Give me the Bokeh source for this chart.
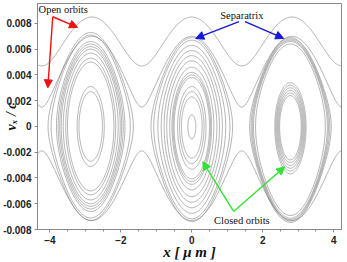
import numpy as np
from bokeh.plotting import figure
from bokeh.models import Label, Arrow, NormalHead, FixedTicker, CustomJSTickFormatter
from bokeh.embed import file_html
from bokeh.resources import INLINE

# ---- data ----
x_ticks = [-4, -2, 0, 2, 4]
x_minor = [-4.5, -4, -3.5, -3, -2.5, -2, -1.5, -1, -0.5, 0, 0.5, 1, 1.5, 2, 2.5, 3, 3.5, 4]
y_ticks = [-0.008, -0.006, -0.004, -0.002, 0.0, 0.002, 0.004, 0.006, 0.008]

period = 2.82                       # distance between island centres [um]
island_centres = [-2.85, 0.0, 2.78]  # x of O-points
island_vsep = [0.0075, 0.0072, 0.0072]   # separatrix height per island
island_bottom_scale = [1.0, 1.07, 1.08]  # lower half a little deeper (egg shape)
left_orbits = [0.0027, 0.0031, 0.0050, 0.0053, 0.0057, 0.0060, 0.0062, 0.0064, 0.0066, 0.0071, 0.0073]
middle_orbits = [0.0009, 0.0023, 0.0027, 0.0031, 0.0038, 0.0040, 0.0042, 0.0046, 0.0051, 0.0055,
                 0.0059, 0.0063, 0.0067, 0.0069]
right_orbits = [0.0024, 0.0026, 0.0028, 0.0030, 0.0032, 0.0034, 0.0064, 0.0066, 0.0067, 0.0068, 0.0069]
island_orbits = [left_orbits, middle_orbits, right_orbits]

open_orbit_min = [0.0047, 0.0015, -0.0019]   # v at X-points
open_orbit_max = [0.0085, 0.0070, -0.0073]   # v at O-points

# annotations (data coordinates)
open_text = (-4.32, 0.00908)
open_arrows = [(-3.92, 0.00852, -3.22, 0.0077), (-3.92, 0.00852, -4.06, 0.0030)]
sep_text = (1.41, 0.00862)
sep_arrows = [(1.33, 0.00815, 0.11, 0.00684), (1.50, 0.00815, 2.59, 0.00684)]
closed_text = (1.41, -0.0073)
closed_arrows = [(1.18, -0.0066, 0.31, -0.00274), (1.18, -0.0066, 2.62, -0.00313)]

# ---- figure ----
p = figure(width=347, height=262, x_range=(-4.35, 4.22), y_range=(-0.008, 0.00955),
           output_backend="svg", toolbar_location=None,
           min_border_left=37, min_border_right=6, min_border_top=3, min_border_bottom=32)
p.grid.visible = False
p.outline_line_color = "#8a8a8a"
p.background_fill_color = "white"
p.border_fill_color = "white"

# closed orbits
xs, ys = [], []
phi = np.linspace(0, 2 * np.pi, 361)
for xc, vs, bsc, amps in zip(island_centres, island_vsep, island_bottom_scale, island_orbits):
    for a in amps:
        r = min(a / vs, 0.9995)
        xo = xc + (period / np.pi) * np.arcsin(r * np.sin(phi))
        c = np.cos(phi)
        vo = a * c * np.where(c < 0, bsc, 1.0)
        xs.append(xo)
        ys.append(vo)

# open orbits
xg = np.linspace(-4.35, 4.22, 500)
for vmin, vmax in zip(open_orbit_min, open_orbit_max):
    sgn = np.sign(vmin)
    vv = sgn * np.sqrt(vmin ** 2 + (vmax ** 2 - vmin ** 2) * np.cos(np.pi * xg / period) ** 2)
    xs.append(xg)
    ys.append(vv)

p.multi_line(xs, ys, line_color="#6a6a6a", line_width=0.6, line_alpha=0.85)

# axes
for ax in (p.xaxis[0], p.yaxis[0]):
    ax.axis_line_color = "#8a8a8a"
    ax.major_tick_line_color = "#8a8a8a"
    ax.minor_tick_line_color = "#8a8a8a"
    ax.major_tick_in = 0
    ax.major_tick_out = 3
    ax.minor_tick_in = 0
    ax.minor_tick_out = 2
    ax.major_label_text_font = "Liberation Sans"
    ax.major_label_text_font_style = "bold"
    ax.major_label_text_font_size = "10px"
    ax.major_label_text_color = "#222222"
    ax.major_label_standoff = 3
    ax.axis_label_text_font = "Liberation Serif"
    ax.axis_label_text_font_style = "bold italic"
    ax.axis_label_text_color = "#111111"
p.xaxis.ticker = FixedTicker(ticks=x_ticks, minor_ticks=x_minor)
p.yaxis.ticker = FixedTicker(ticks=y_ticks, minor_ticks=[])
p.yaxis.formatter = CustomJSTickFormatter(code="return Math.abs(tick) < 1e-9 ? '0' : tick.toFixed(3);")

p.xaxis.axis_label = "x [ μ m ]"
p.xaxis.axis_label_text_font_size = "15px"
p.xaxis.axis_label_standoff = -3
p.yaxis.axis_label = "vₓ / c"
p.yaxis.axis_label_text_font_size = "14px"
p.yaxis.axis_label_standoff = -19

# annotations
def add_note(pos, txt, align):
    p.add_layout(Label(x=pos[0], y=pos[1], text=txt, text_font="Liberation Serif",
                       text_font_size="10.5px", text_align=align, text_baseline="middle",
                       text_color="#111111"))

def add_arrows(lst, col):
    for x0, y0, x1, y1 in lst:
        p.add_layout(Arrow(end=NormalHead(size=8, fill_color=col, line_color=col),
                           x_start=x0, y_start=y0, x_end=x1, y_end=y1,
                           line_color=col, line_width=1.4))

add_note(open_text, "Open orbits", "left")
add_note(sep_text, "Separatrix", "center")
add_note(closed_text, "Closed orbits", "center")
add_arrows(open_arrows, "#ee1111")
add_arrows(sep_arrows, "#1616dd")
add_arrows(closed_arrows, "#33e033")

open("out.html", "w").write(file_html(p, INLINE))
